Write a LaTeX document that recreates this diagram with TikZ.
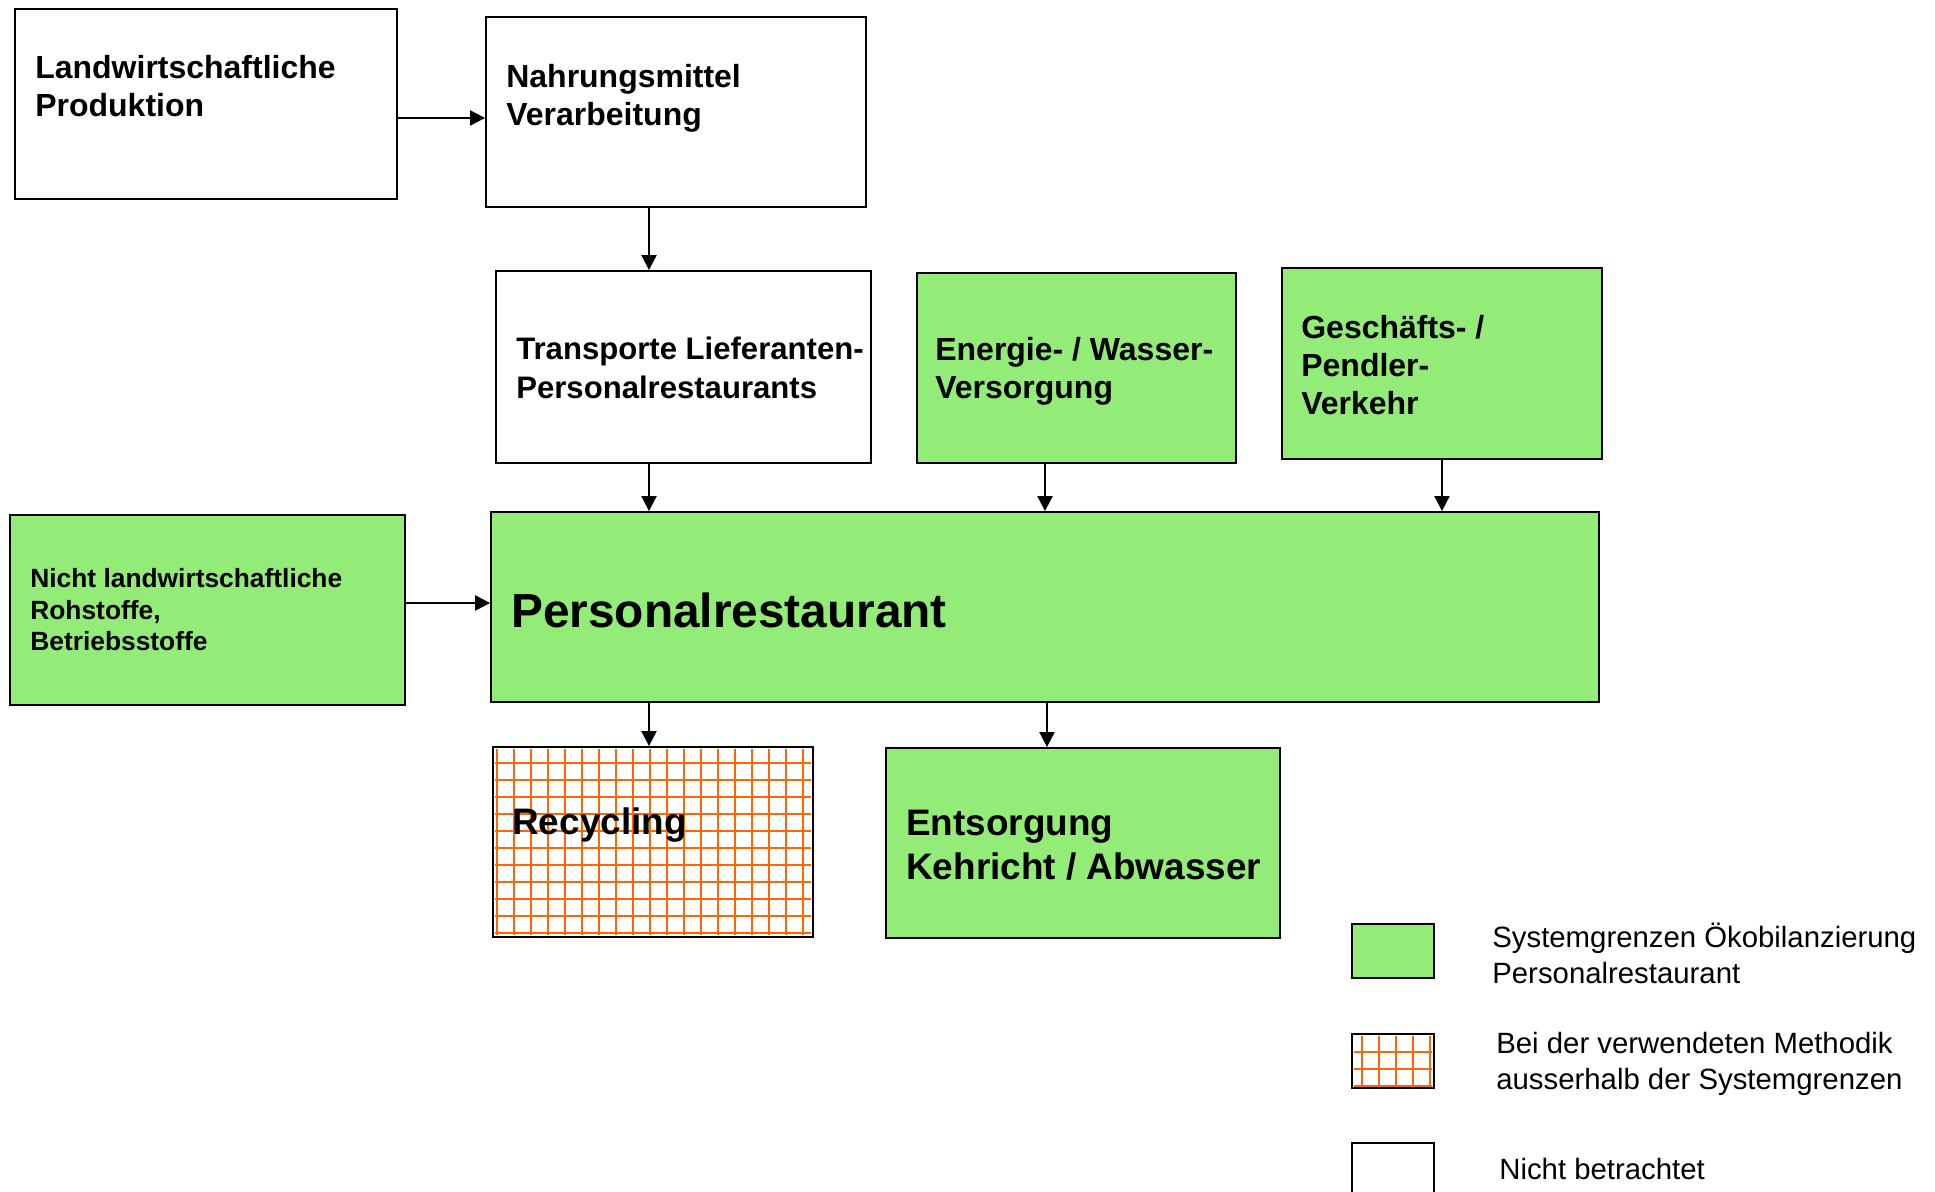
\documentclass[tikz,border=0pt]{standalone}
\usepackage{fontspec}
\setmainfont{Liberation Sans}
\usetikzlibrary{arrows.meta}
\definecolor{Scope}{HTML}{93EB78}
\definecolor{Outside}{HTML}{FF6600}
\tikzset{
  blk/.style={draw=black,line width=1.1pt,inner sep=0pt},
  inblk/.style={blk,fill=Scope},
  outblk/.style={blk,fill=white},
  txt/.style={anchor=west,align=left,inner sep=0pt,font=\bfseries\fontsize{18.2}{21.8}\selectfont},
  keytxt/.style={anchor=west,align=left,inner sep=0pt,font=\fontsize{16.7}{20.5}\selectfont},
  flow/.style={-{Triangle[length=.3cm,width=.3cm]},line width=1.2pt},
  hatch/.style={draw=Outside,line width=.8pt}
}
\begin{document}
\begin{tikzpicture}[x=.02cm,y=-.02cm]
  \useasboundingbox (0,0) rectangle (1935,1191);
  % boxes
  \node[outblk,minimum width=7.64cm,minimum height=3.8cm] (land) at (206,104) {};
  \node[outblk,minimum width=7.6cm,minimum height=3.8cm] (nahrung) at (676,112) {};
  \node[outblk,minimum width=7.5cm,minimum height=3.84cm] (trans) at (683.5,367) {};
  \node[inblk,minimum width=6.38cm,minimum height=3.8cm] (energie) at (1076.5,368) {};
  \node[inblk,minimum width=6.4cm,minimum height=3.82cm] (verkehr) at (1442,363.5) {};
  \node[inblk,minimum width=7.9cm,minimum height=3.8cm] (rohstoffe) at (207.5,610) {};
  \node[inblk,minimum width=22.16cm,minimum height=3.8cm] (resto) at (1045,607) {};
  \node[outblk,minimum width=6.4cm,minimum height=3.8cm] (recyc) at (653,842) {};
  \node[inblk,minimum width=7.88cm,minimum height=3.8cm] (entsorg) at (1083,843) {};
  % grid of the recycling box
  \foreach \gx in {497,514,...,803} \draw[hatch] (\gx,749) -- (\gx,935);
  \foreach \gy in {763,780,...,933} \draw[hatch] (495,\gy) -- (811,\gy);
  % texts
  \node[txt] (land-t) at (35,86) {Landwirtschaftliche\\Produktion};
  \node[txt] (nahrung-t) at (506,98) {Nahrungsmittel\\Verarbeitung};
  \node[txt,font=\bfseries\fontsize{17.7}{21.8}\selectfont] (trans-t) at (516,368) {Transporte Lieferanten-\\Personalrestaurants};
  \node[txt] (energie-t) at (935,371) {Energie- / Wasser-\\Versorgung};
  \node[txt] (verkehr-t) at (1301,365) {Geschäfts- /\\Pendler-\\Verkehr};
  \node[txt,font=\bfseries\fontsize{15}{17.9}\selectfont] (rohstoffe-t) at (30,610) {Nicht landwirtschaftliche\\Rohstoffe,\\Betriebsstoffe};
  \node[txt,font=\bfseries\fontsize{27.2}{32}\selectfont] (resto-t) at (511,610) {Personalrestaurant};
  \node[txt,font=\bfseries\fontsize{21}{25}\selectfont] (recyc-t) at (512,825) {Recycling};
  \node[txt,font=\bfseries\fontsize{21}{25}\selectfont] (entsorg-t) at (906,845) {Entsorgung\\Kehricht / Abwasser};
  % connectors
  \coordinate (col1) at (649,0);
  \coordinate (col2) at (1045,0);
  \coordinate (col3) at (1047,0);
  \coordinate (a1) at ([yshift=-.28cm]land.east);
  \coordinate (a2) at ([yshift=.14cm]rohstoffe.east);
  \draw[flow] (a1) -- (a1 -| nahrung.west);
  \draw[flow] (a2) -- (a2 -| resto.west);
  \draw[flow] (col1 |- nahrung.south) -- (col1 |- trans.north);
  \draw[flow] (col1 |- trans.south) -- (col1 |- resto.north);
  \draw[flow] (col2 |- energie.south) -- (col2 |- resto.north);
  \draw[flow] (verkehr.south) -- (verkehr.south |- resto.north);
  \draw[flow] (col1 |- resto.south) -- (col1 |- recyc.north);
  \draw[flow] (col3 |- resto.south) -- (col3 |- entsorg.north);
  % legend
  \node[inblk,minimum width=1.64cm,minimum height=1.08cm] (key-in) at (1393,951) {};
  \node[outblk,minimum width=1.64cm,minimum height=1.08cm] (key-out) at (1393,1061) {};
  \foreach \gx in {1362,1379,...,1430} \draw[hatch] (\gx,1036) -- (\gx,1086);
  \foreach \gy in {1052,1069,1086} \draw[hatch] (1354,\gy) -- (1432,\gy);
  \node[outblk,minimum width=1.64cm,minimum height=1.4cm,anchor=north] (key-none) at (1393,1142) {};
  \node[keytxt] (key-in-t) at (1492,953) {Systemgrenzen Ökobilanzierung\\Personalrestaurant};
  \node[keytxt] (key-out-t) at (1496,1064) {Bei der verwendeten Methodik\\ausserhalb der Systemgrenzen};
  \node[keytxt] (key-none-t) at (1499,1169) {Nicht betrachtet};
\end{tikzpicture}
\end{document}
